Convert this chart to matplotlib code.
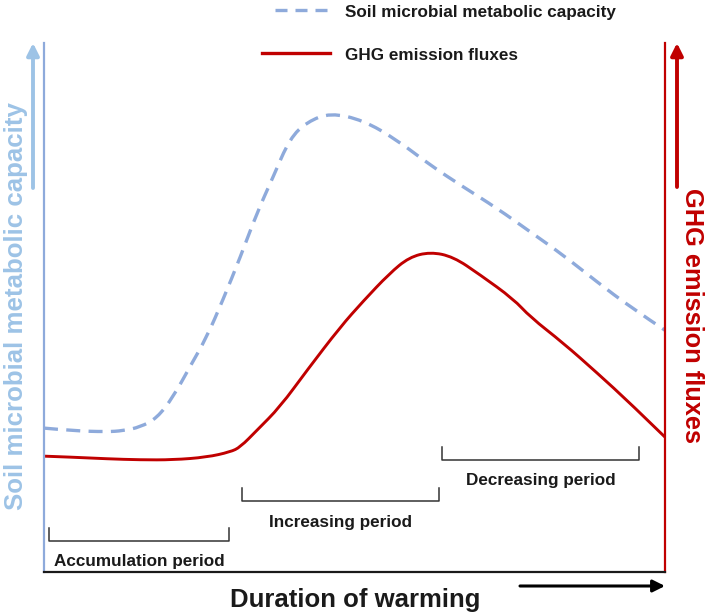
import numpy as np
import matplotlib
matplotlib.use('Agg')
import matplotlib.pyplot as plt
from matplotlib.lines import Line2D
from matplotlib.path import Path
from matplotlib.patches import PathPatch

plt.rcParams.update({'font.family': 'Liberation Sans', 'font.weight': 'bold'})

BLUE = '#8eaadb'
BLUE_TXT = '#9dc3e6'
RED = '#c00000'
DARK = '#1a1a1a'

# duration of warming (arbitrary units, 0-100)
x_cap = [0, 4.7, 10.1, 12.7, 15.5, 18.2, 20.8, 23.5, 26.2, 28.8, 31.6, 34.3, 36.9,
         39.6, 42.4, 46.1, 51.4, 56.8, 62.2, 67.5, 72.9, 78.3, 83.6, 89.1, 94.4, 100]
# soil microbial metabolic capacity (arbitrary units)
y_cap = [27.2, 26.7, 26.5, 26.7, 27.4, 29.1, 33.1, 38.8, 44.4, 51.4, 59.5, 67.9, 74.7,
         82.0, 85.1, 86.8, 85.4, 81.7, 76.9, 72.8, 68.8, 64.3, 59.9, 54.8, 50.1, 45.7]

x_ghg = [0, 4.7, 10.1, 15.5, 20.8, 26.2, 30.0, 31.6, 34.3, 38.0, 42.4, 47.7, 51.4,
         55.6, 58.8, 62.2, 65.9, 70.2, 75.6, 78.3, 83.6, 89.1, 94.4, 100]
# GHG emission fluxes (arbitrary units)
y_ghg = [21.9, 21.7, 21.4, 21.2, 21.2, 21.7, 22.7, 23.6, 26.8, 31.2, 38.2, 46.3, 51.2,
         56.4, 59.5, 60.5, 59.6, 56.2, 51.6, 48.2, 43.3, 37.6, 31.9, 25.5]

cap_label = 'Soil microbial metabolic capacity'
ghg_label = 'GHG emission fluxes'

periods = ['Accumulation period', 'Increasing period', 'Decreasing period']
period_start = [0.8, 31.9, 64.1]
period_end = [29.8, 63.6, 95.8]
period_level = [5.9, 13.4, 21.2]

fig = plt.figure(figsize=(7.08, 6.15), dpi=100)
W, H = 708, 615
ax = fig.add_axes([44 / W, 43 / H, 621 / W, 529 / H])
ax.set_xlim(0, 100)
ax.set_ylim(0, 100)
ax.set_xticks([])
ax.set_yticks([])
ax.spines['top'].set_visible(False)
ax.spines['left'].set_color(BLUE)
ax.spines['right'].set_color(RED)
ax.spines['bottom'].set_color(DARK)
for s in ['left', 'right', 'bottom']:
    ax.spines[s].set_linewidth(1.6)


def smooth_path(xs, ys):
    # read points used as quadratic bezier controls, so the line is drawn smooth
    pts = list(zip(xs, ys))
    verts = [pts[0]]
    codes = [Path.MOVETO]
    for i in range(1, len(pts) - 1):
        mid = ((pts[i][0] + pts[i + 1][0]) / 2, (pts[i][1] + pts[i + 1][1]) / 2)
        if i == len(pts) - 2:
            mid = pts[-1]
        verts += [pts[i], mid]
        codes += [Path.CURVE3, Path.CURVE3]
    return Path(verts, codes)


ax.add_patch(PathPatch(smooth_path(x_cap, y_cap), fill=False, edgecolor=BLUE, lw=2.4,
                       linestyle=(0, (4.2, 2.5)), capstyle='butt', clip_on=False))
ax.add_patch(PathPatch(smooth_path(x_ghg, y_ghg), fill=False, edgecolor=RED, lw=2.1,
                       joinstyle='round', clip_on=False))

# period brackets
tick = 2.4
for name, a, b, lev in zip(periods, period_start, period_end, period_level):
    ax.plot([a, a, b, b], [lev + tick, lev, lev, lev + tick], color='#333333', lw=1.1)
    ax.text((a + b) / 2, lev - 4.8, name, ha='center', va='baseline',
            fontsize=12.3, color=DARK)

# legend drawn by hand
fig.add_artist(Line2D([275 / W, 330 / W], [1 - 10 / H, 1 - 10 / H], color=BLUE,
                      lw=2.4, dashes=(3.6, 2.4), dash_capstyle='butt'))
fig.add_artist(Line2D([262 / W, 330 / W], [1 - 53 / H, 1 - 53 / H], color=RED, lw=2.4))
fig.text(345 / W, 1 - 17 / H, cap_label, fontsize=12.3, va='baseline', color=DARK)
fig.text(345 / W, 1 - 59.5 / H, ghg_label, fontsize=12.3, va='baseline', color=DARK)

# axis titles
fig.text(16.5 / W, 1 - 306 / H, cap_label, rotation=90, ha='center', va='center',
         fontsize=18.6, color=BLUE_TXT)
fig.text(692 / W, 1 - 315 / H, ghg_label, rotation=270, ha='center', va='center',
         fontsize=18.3, color=RED)
fig.text(355 / W, 8 / H, 'Duration of warming', ha='center', va='baseline',
         fontsize=18.5, color=DARK)

# direction arrows
def arrow(p0, p1, color, lw):
    ax.annotate('', xy=p1, xytext=p0, xycoords='figure pixels', textcoords='figure pixels',
                arrowprops=dict(arrowstyle='-|>,head_length=0.6,head_width=0.3',
                                color=color, lw=lw, shrinkA=0, shrinkB=0,
                                mutation_scale=12))

arrow((33, H - 188), (33, H - 43), BLUE_TXT, 2.8)
arrow((677, H - 187), (677, H - 43), RED, 2.8)
arrow((520, H - 586), (665, H - 586), 'black', 2.2)

fig.savefig('out.png', dpi=100)
print('saved')
